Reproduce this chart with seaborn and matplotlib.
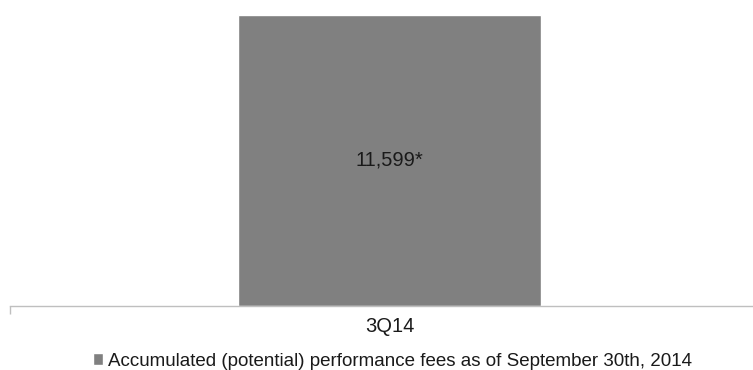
import seaborn as sns
import pandas as pd
import matplotlib.pyplot as plt

# data
periods = ["3Q14"]
fees = [11599]
value_labels = ["11,599*"]
series_name = "Accumulated (potential) performance fees as of September 30th, 2014"

df = pd.DataFrame({"period": periods, "fees": fees})

sns.set_theme(style="white")
plt.rcParams['font.family'] = ['Liberation Sans', 'DejaVu Sans']

fig = plt.figure(figsize=(7.53, 3.70), dpi=100)
ax = fig.add_axes([10 / 753, 64 / 370, 759 / 753, 291 / 370])

sns.barplot(data=df, x="period", y="fees", color="#808080", width=0.4,
            saturation=1, ax=ax, label=series_name)
for p, lab in zip(ax.patches, value_labels):
    ax.text(p.get_x() + p.get_width() / 2, p.get_height() / 2, lab,
            ha="center", va="center", fontsize=14.5, color="#1a1a1a")

ax.set_ylim(0, max(fees))
ax.set_xlim(-0.5, 0.5)
ax.set_yticks([])
ax.set_xlabel("")
ax.set_ylabel("")
for s in ["top", "right", "left"]:
    ax.spines[s].set_visible(False)
ax.spines["bottom"].set_color("#bfbfbf")
ax.spines["bottom"].set_linewidth(1)
ax.tick_params(axis="x", which="major", length=0, pad=8, labelsize=14.5, labelcolor="#1a1a1a")
ax.set_xticks([-0.5], minor=True)
ax.tick_params(axis="x", which="minor", bottom=True, length=6, width=1, color="#bfbfbf", direction="out")

handles, labels = ax.get_legend_handles_labels()
if ax.get_legend():
    ax.get_legend().remove()
fig.legend(handles, labels, loc="center", bbox_to_anchor=(392 / 753, 1 - 361 / 370),
           frameon=False, fontsize=13.5, handlelength=0.55, handleheight=0.55,
           handletextpad=0.25, borderpad=0, labelcolor="#1a1a1a")

fig.savefig("out.png", dpi=100)
